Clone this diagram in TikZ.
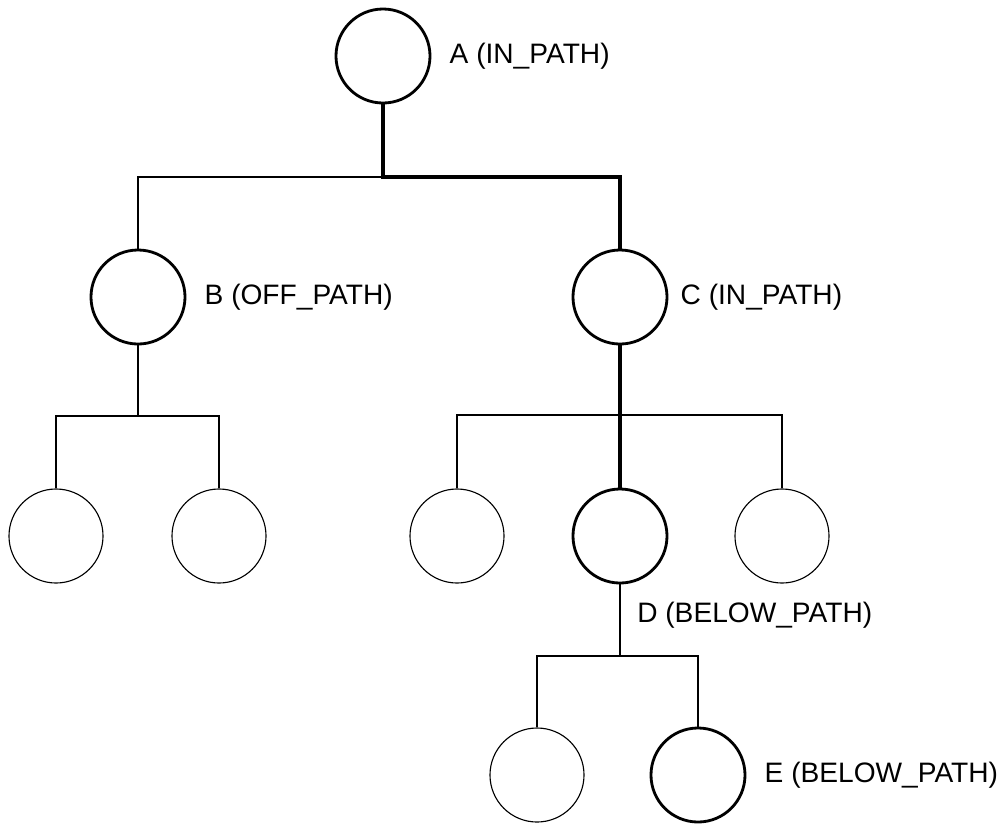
\documentclass[tikz,border=0pt]{standalone}
\usepackage{fontspec}
\setmainfont{Liberation Sans}
\usetikzlibrary{positioning}

\begin{document}
\begin{tikzpicture}[x=0.025cm, y=-0.025cm, node distance=0.45cm]
    \tikzstyle{vertex} = [draw, circle, line width=0.8pt, minimum size=2.35cm, inner sep=0pt];
    \tikzstyle{marked} = [vertex, line width=2pt];
    \tikzstyle{tag} = [inner sep=0pt, font=\fontsize{20}{24}\selectfont];
    \tikzstyle{offpath} = [line width=0.9pt];
    \tikzstyle{onpath} = [line width=2.4pt];
    \useasboundingbox (0,0) rectangle (1008,825);
    % tree nodes
    \node [marked] (A) at (383,56) {};
    \node [marked] (B) at (138,297) {};
    \node [marked] (C) at (620,297) {};
    \node [vertex] (B1) at (56,536) {};
    \node [vertex] (B2) at (219,536) {};
    \node [vertex] (C1) at (457,536) {};
    \node [marked] (D) at (620,536) {};
    \node [vertex] (C3) at (782,536) {};
    \node [vertex] (D1) at (537,775) {};
    \node [marked] (E) at (698,775) {};
    % labels
    \node [tag, right=of A] (tA) {A (IN\_PATH)};
    \node [tag, right=of B] (tB) {B (OFF\_PATH)};
    \node [tag, right=0.3cm of C] (tC) {C (IN\_PATH)};
    \node [tag, anchor=west] (tD) at (637,615) {D (BELOW\_PATH)};
    \node [tag, right=of E] (tE) {E (BELOW\_PATH)};
    % branch points
    \coordinate (jA) at (383,177);
    \coordinate (jB) at (138,416);
    \coordinate (jC) at (620,415);
    \coordinate (jD) at (620,656);
    % edges
    \draw [offpath] (jA) -| (B);
    \draw [onpath] (A) -- (jA) -| (C);
    \draw [onpath] (C) -- (D);
    \draw [offpath] (B) -- (jB);
    \draw [offpath] (jB) -| (B1);
    \draw [offpath] (jB) -| (B2);
    \draw [offpath] (jC) -| (C1);
    \draw [offpath] (jC) -| (C3);
    \draw [offpath] (D) -- (jD);
    \draw [offpath] (jD) -| (D1);
    \draw [offpath] (jD) -| (E);
\end{tikzpicture}
\end{document}
